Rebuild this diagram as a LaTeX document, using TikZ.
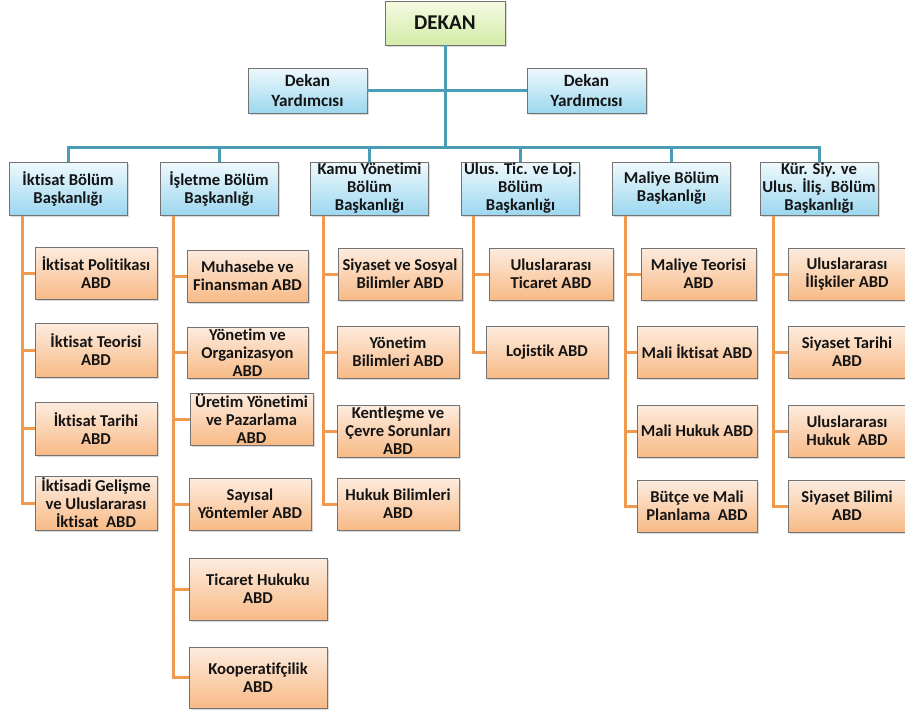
\documentclass[tikz,border=0pt]{standalone}
\usepackage{fontspec}
\setmainfont{Carlito}[Ligatures={NoCommon}]
\usetikzlibrary{shadows}
\definecolor{tealln}{HTML}{4A9DB5}
\definecolor{orangeln}{HTML}{F09A50}
\definecolor{gtop}{HTML}{F6FBE2}
\definecolor{gbot}{HTML}{D3EBA8}
\definecolor{btop}{HTML}{EFF9FD}
\definecolor{bbot}{HTML}{9CD7EF}
\definecolor{otop}{HTML}{FDECDF}
\definecolor{obot}{HTML}{F8BA86}
\definecolor{txt}{HTML}{141414}
\begin{document}
\begin{tikzpicture}[x=1pt,y=-1pt,
  base/.style={draw=black!55, line width=0.6pt, align=center, inner sep=1pt, text=txt,
    font=\bfseries\fontsize{16.6}{18}\selectfont,
    drop shadow={opacity=0.3, shadow xshift=1.5pt, shadow yshift=-1.5pt}},
  wh/.style n args={2}{minimum width=#1pt, minimum height=#2pt},
  gbox/.style={base, top color=gtop, bottom color=gbot, font=\bfseries\fontsize{21}{24}\selectfont},
  bbox/.style={base, top color=btop, bottom color=bbot},
  ybox/.style={base, top color=btop, bottom color=bbot, font=\bfseries\fontsize{17.2}{20}\selectfont},
  obox/.style={base, top color=otop, bottom color=obot},
  tl/.style={draw=tealln, line width=3pt},
  ol/.style={draw=orangeln, line width=3pt}
]
\useasboundingbox (0,0) rectangle (905,715);

% top
\node[gbox, wh={120}{44}] (dek) at (445,23) {DEKAN};
\node[ybox, wh={119}{45}] (y1) at (307.5,90.5) {Dekan\\Yardımcısı};
\node[ybox, wh={119}{45}] (y2) at (586.5,90.5) {Dekan\\Yardımcısı};

% departments
\node[bbox, wh={118}{53}] (b1) at (68,188.5) {İktisat Bölüm\\Başkanlığı};
\node[bbox, wh={118}{53}] (b2) at (219,188.5) {İşletme Bölüm\\Başkanlığı};
\node[bbox, wh={118}{53}] (b3) at (369.5,188.5) {Kamu Yönetimi\\Bölüm\\Başkanlığı};
\node[bbox, wh={118}{53}] (b4) at (520.5,188.5) {Ulus. Tic. ve Loj.\\Bölüm\\Başkanlığı};
\node[bbox, wh={118}{53}] (b5) at (671.5,188.5) {Maliye Bölüm\\Başkanlığı};
\node[bbox, wh={118}{53}] (b6) at (819,188.5) {Kür. Siy. ve\\Ulus. İliş. Bölüm\\Başkanlığı};

% column 1
\node[obox, wh={122}{52}] (c1a) at (96,273) {İktisat Politikası\\ABD};
\node[obox, wh={122}{54}] (c1b) at (96,350) {İktisat Teorisi\\ABD};
\node[obox, wh={122}{53}] (c1c) at (96,428.5) {İktisat Tarihi\\ABD};
\node[obox, wh={122}{54}] (c1d) at (96,503) {İktisadi Gelişme\\ve Uluslararası\\İktisat\ \ ABD};

% column 2
\node[obox, wh={121}{52}] (c2a) at (247.5,276) {Muhasebe ve\\Finansman ABD};
\node[obox, wh={121}{51}] (c2b) at (247.5,352.5) {Yönetim ve\\Organizasyon\\ABD};
\node[obox, wh={123}{52}] (c2c) at (251.5,419) {Üretim Yönetimi\\ve Pazarlama\\ABD};
\node[obox, wh={122}{52}] (c2d) at (250,504) {Sayısal\\Yöntemler ABD};
\node[obox, wh={138}{62}] (c2e) at (258,589) {Ticaret Hukuku\\ABD};
\node[obox, wh={138}{61}] (c2f) at (258,677.5) {Kooperatifçilik\\ABD};

% column 3
\node[obox, wh={124}{52}] (c3a) at (400,274) {Siyaset ve Sosyal\\Bilimler ABD};
\node[obox, wh={122}{52}] (c3b) at (398,352) {Yönetim\\Bilimleri ABD};
\node[obox, wh={122}{52}] (c3c) at (398,431) {Kentleşme ve\\Çevre Sorunları\\ABD};
\node[obox, wh={122}{52}] (c3d) at (398,504) {Hukuk Bilimleri\\ABD};

% column 4
\node[obox, wh={124}{52}] (c4a) at (551,274) {Uluslararası\\Ticaret ABD};
\node[obox, wh={122}{52}] (c4b) at (547,352) {Lojistik ABD};

% column 5
\node[obox, wh={115}{52}] (c5a) at (698.5,274) {Maliye Teorisi\\ABD};
\node[obox, wh={120}{52}] (c5b) at (697,352) {Mali İktisat ABD};
\node[obox, wh={120}{52}] (c5c) at (697,431) {Mali Hukuk ABD};
\node[obox, wh={120}{52}] (c5d) at (697,506) {Bütçe ve Mali\\Planlama\ \ ABD};

% column 6
\node[obox, wh={118}{52}] (c6a) at (847,274) {Uluslararası\\İlişkiler ABD};
\node[obox, wh={118}{52}] (c6b) at (847,352) {Siyaset Tarihi\\ABD};
\node[obox, wh={118}{52}] (c6c) at (847,431) {Uluslararası\\Hukuk\ \ ABD};
\node[obox, wh={118}{52}] (c6d) at (847,506) {Siyaset Bilimi\\ABD};

% teal connectors
\coordinate (busy) at (0,147);
\draw[tl] (dek.south) -- (dek.south |- busy);
\draw[tl] (y1.east) -- (y2.west);
\draw[tl] (b1.north) -- (b1.north |- busy) -- (b6.north |- busy) -- (b6.north);
\foreach \b in {b2,b3,b4,b5} \draw[tl] (\b.north) -- (\b.north |- busy);

% orange connectors
\coordinate (v1) at (22,215.5);
\coordinate (v2) at (173,215.5);
\coordinate (v3) at (323,215.5);
\coordinate (v4) at (473,215.5);
\coordinate (v5) at (625,215.5);
\coordinate (v6) at (773,215.5);
\foreach \c in {c1a,c1b,c1c,c1d} \draw[ol] (v1) |- (\c.west);
\foreach \c in {c2a,c2b,c2c,c2d,c2e,c2f} \draw[ol] (v2) |- (\c.west);
\foreach \c in {c3a,c3b,c3c,c3d} \draw[ol] (v3) |- (\c.west);
\foreach \c in {c4a,c4b} \draw[ol] (v4) |- (\c.west);
\foreach \c in {c5a,c5b,c5c,c5d} \draw[ol] (v5) |- (\c.west);
\foreach \c in {c6a,c6b,c6c,c6d} \draw[ol] (v6) |- (\c.west);
\end{tikzpicture}
\end{document}
